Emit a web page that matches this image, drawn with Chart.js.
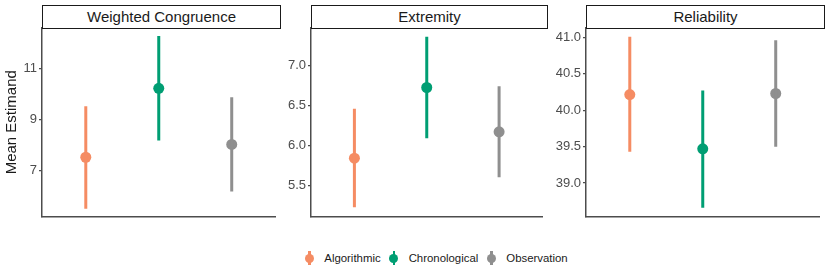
<!DOCTYPE html>
<html>
<head>
<meta charset="utf-8">
<script src="https://cdn.jsdelivr.net/npm/chart.js@4.4.1/dist/chart.umd.min.js"></script>
<style>
  body { margin: 0; background: #fff; font-family: "Liberation Sans", Arial, sans-serif; }
  #wrap { position: relative; width: 830px; height: 277px; overflow: hidden; }
  canvas { position: absolute; top: 0; }
  .strip { position: absolute; top: 5px; height: 24px; box-sizing: border-box; border: 1.3px solid #1a1a1a;
           font-size: 15px; color: #1a1a1a; text-align: center; line-height: 21px; background: #fff; }
  #legend { position: absolute; top: 250px; left: 0; width: 870px; display: flex; justify-content: center;
            font-size: 11.4px; color: #1a1a1a; }
  .item { display: flex; align-items: center; margin: 0 3px; }
  .key { position: relative; width: 14px; height: 16px; margin-right: 8px; }
  .key .ln { position: absolute; left: 6px; top: 1px; width: 2.4px; height: 14px; }
  .key .dot { position: absolute; left: 2.5px; top: 3.5px; width: 9px; height: 9px; border-radius: 50%; }
</style>
</head>
<body>
<div id="wrap">
  <canvas id="c1" width="281" height="230"></canvas>
  <canvas id="c2" width="277" height="230"></canvas>
  <canvas id="c3" width="279" height="230"></canvas>
  <div id="legend"></div>
</div>
<script>
// groups and facets
const groups = ['Algorithmic', 'Chronological', 'Observation'];
const colors = ['#F58C63', '#009E73', '#8F8F8F'];
const panels = ['Weighted Congruence', 'Extremity', 'Reliability'];

// Weighted Congruence
const wcMean = [7.52, 10.22, 8.02];
const wcLow = [5.5, 8.18, 6.18];
const wcHigh = [9.52, 12.27, 9.87];
const wcTicks = [7, 9, 11];
const wcLabels = ['7', '9', '11'];

// Extremity
const exMean = [5.84, 6.725, 6.17];
const exLow = [5.225, 6.09, 5.6];
const exHigh = [6.46, 7.36, 6.74];
const exTicks = [5.5, 6.0, 6.5, 7.0];
const exLabels = ['5.5', '6.0', '6.5', '7.0'];

// Reliability
const reMean = [40.215, 39.47, 40.23];
const reLow = [39.43, 38.66, 39.5];
const reHigh = [41.01, 40.27, 40.96];
const reTicks = [39.0, 39.5, 40.0, 40.5, 41.0];
const reLabels = ['39.0', '39.5', '40.0', '40.5', '41.0'];

const axisColor = '#4D4D4D';

function makePanel(id, left, yWidth, means, lows, highs, ticks, labels, yMin, yMax, yTitle) {
  const canvas = document.getElementById(id);
  canvas.style.left = left + 'px';
  const datasets = [];
  groups.forEach((g, i) => {
    datasets.push({
      label: g,
      data: [{ x: i + 1, y: lows[i] }, { x: i + 1, y: highs[i] }],
      showLine: true,
      borderColor: colors[i],
      borderWidth: 3,
      pointRadius: 0
    });
  });
  groups.forEach((g, i) => {
    datasets.push({
      label: g,
      data: [{ x: i + 1, y: means[i] }],
      backgroundColor: colors[i],
      borderWidth: 0,
      pointRadius: 5.5
    });
  });
  return new Chart(canvas, {
    type: 'scatter',
    data: { datasets: datasets },
    options: {
      responsive: false,
      animation: false,
      devicePixelRatio: 1,
      layout: { padding: { top: 28, bottom: 13.5, left: 0, right: 0 } },
      plugins: { legend: { display: false }, tooltip: { enabled: false } },
      scales: {
        x: {
          type: 'linear', min: 0.4, max: 3.6,
          ticks: { display: false },
          grid: { display: false },
          border: { display: true, color: axisColor, width: 1.5 },
          afterFit: (s) => { s.height = 0; }
        },
        y: {
          type: 'linear', min: yMin, max: yMax,
          afterBuildTicks: (s) => { s.ticks = ticks.map(v => ({ value: v })); },
          afterFit: (s) => { s.width = yWidth; },
          ticks: {
            color: '#4D4D4D', padding: 2,
            font: { family: 'Liberation Sans', size: 13 },
            callback: (v, idx) => labels[idx]
          },
          grid: { drawOnChartArea: false, drawTicks: true, tickLength: 3, color: axisColor, lineWidth: 1.2 },
          border: { display: true, color: axisColor, width: 1.5 },
          title: {
            display: !!yTitle, text: yTitle, color: '#1a1a1a',
            font: { family: 'Liberation Sans', size: 15 },
            padding: { top: 3, bottom: 0 }
          }
        }
      }
    }
  });
}

makePanel('c1', 0, 42, wcMean, wcLow, wcHigh, wcTicks, wcLabels, 5.2, 12.58, 'Mean Estimand');
makePanel('c2', 271, 40, exMean, exLow, exHigh, exTicks, exLabels, 5.11, 7.47, '');
makePanel('c3', 546, 40, reMean, reLow, reHigh, reTicks, reLabels, 38.54, 41.13, '');

// facet strips
const stripBox = [[42, 281], [311, 548], [586, 825]];
panels.forEach((p, i) => {
  const d = document.createElement('div');
  d.className = 'strip';
  d.style.left = stripBox[i][0] + 'px';
  d.style.width = (stripBox[i][1] - stripBox[i][0]) + 'px';
  d.textContent = p;
  document.getElementById('wrap').appendChild(d);
});

// legend
const legend = document.getElementById('legend');
groups.forEach((g, i) => {
  const item = document.createElement('div');
  item.className = 'item';
  item.innerHTML = '<div class="key"><div class="ln" style="background:' + colors[i] + '"></div>' +
    '<div class="dot" style="background:' + colors[i] + '"></div></div><span>' + g + '</span>';
  legend.appendChild(item);
});
</script>
</body>
</html>
